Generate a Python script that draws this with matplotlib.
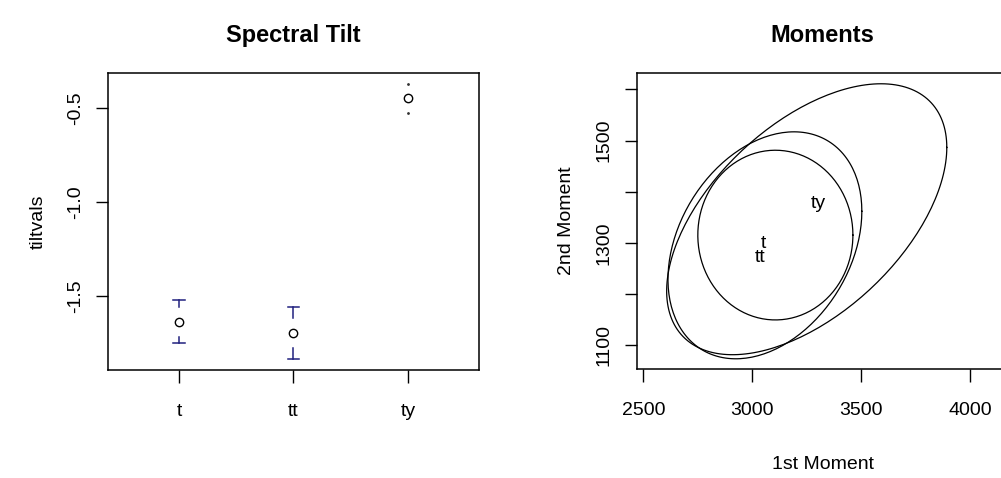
import numpy as np
import matplotlib
matplotlib.use('Agg')
import matplotlib.pyplot as plt

plt.rcParams['font.family'] = ['Liberation Sans', 'DejaVu Sans']
plt.rcParams['font.size'] = 14

# ========================
# Data
# ========================
groups = ['t', 'tt', 'ty']
tilt_mean = [-1.637, -1.695, -0.448]
tilt_upper = [-1.521, -1.557, -0.372]
tilt_lower = [-1.752, -1.832, -0.528]

# moments: centroid of each ellipse, sd of each axis, correlation
ell_cx = [3058, 3106, 3250]
ell_cy = [1295, 1315, 1346]
ell_sdx = [445, 356, 643]
ell_sdy = [222, 166, 265]
ell_corr = [0.30, 0.0, 0.53]
label_x = [3050, 3036, 3302]
label_y = [1298, 1272, 1376]

bar_col = '#20207e'

fig = plt.figure(figsize=(10.01, 4.78), dpi=100)
ax1 = fig.add_axes([0.1079, 0.2259, 0.3706, 0.6213])
ax2 = fig.add_axes([0.6364, 0.2280, 0.3706, 0.6192])

# ========================
# Spectral Tilt (plotCI style)
# ========================
xpos = np.arange(1, len(groups) + 1)
gap = 0.08
cap = 0.052
for x, m, up, lo in zip(xpos, tilt_mean, tilt_upper, tilt_lower):
    for lim, sgn in ((up, 1), (lo, -1)):
        start = m + sgn * gap
        if sgn * (lim - start) > 0:
            ax1.plot([x, x], [start, lim], color=bar_col, lw=1.1)
            ax1.plot([x - cap, x + cap], [lim, lim], color=bar_col, lw=1.1)
        else:
            # bar shorter than the gap: only a dot is left
            ax1.plot(x, lim, marker='.', ms=2, color='#333333')
ax1.plot(xpos, tilt_mean, 'o', mfc='white', mec='black', ms=6, mew=1.0)
ax1.set_xlim(0.38, 3.62)
ax1.set_ylim(-1.893, -0.316)
ax1.set_xticks(xpos)
ax1.set_xticklabels(groups)
ax1.set_yticks([-1.5, -1.0, -0.5])
ax1.set_yticklabels(['-1.5', '-1.0', '-0.5'])
ax1.set_title('Spectral Tilt', fontsize=17, fontweight='bold', pad=22)
ax1.set_ylabel('tiltvals', va='center')
ax1.yaxis.set_label_coords(-0.189, 0.5)

# ========================
# Moments (ellipse plot)
# ========================
theta = np.linspace(0, 2 * np.pi, 200)
for cx, cy, sx, sy, r in zip(ell_cx, ell_cy, ell_sdx, ell_sdy, ell_corr):
    cov = np.array([[sx * sx, r * sx * sy], [r * sx * sy, sy * sy]])
    L = np.linalg.cholesky(cov)
    pts = L @ np.vstack([np.cos(theta), np.sin(theta)])
    ax2.plot(cx + pts[0], cy + pts[1], color='black', lw=0.9)
for lx, ly, g in zip(label_x, label_y, groups):
    ax2.text(lx, ly, g, ha='center', va='center', fontsize=14)
ax2.set_xlim(2471, 4174)
ax2.set_ylim(1053, 1632)
ax2.set_xticks([2500, 3000, 3500, 4000])
ax2.set_yticks([1100, 1200, 1300, 1400, 1500, 1600])
ax2.set_yticklabels(['1100', '', '1300', '', '1500', ''])
ax2.set_title('Moments', fontsize=17, fontweight='bold', pad=22)
ax2.set_xlabel('1st Moment', va='center')
ax2.xaxis.set_label_coords(0.5, -0.323)
ax2.set_ylabel('2nd Moment', va='center')
ax2.yaxis.set_label_coords(-0.189, 0.5)

for ax in (ax1, ax2):
    for sp in ax.spines.values():
        sp.set_linewidth(1.1)
    ax.tick_params(axis='x', length=9, width=1.0, pad=15)
    ax.tick_params(axis='y', length=9, width=1.0, pad=8.5)
    for lab in ax.get_yticklabels():
        lab.set_rotation(90)
        lab.set_va('center')

fig.savefig('out.png', dpi=100)
